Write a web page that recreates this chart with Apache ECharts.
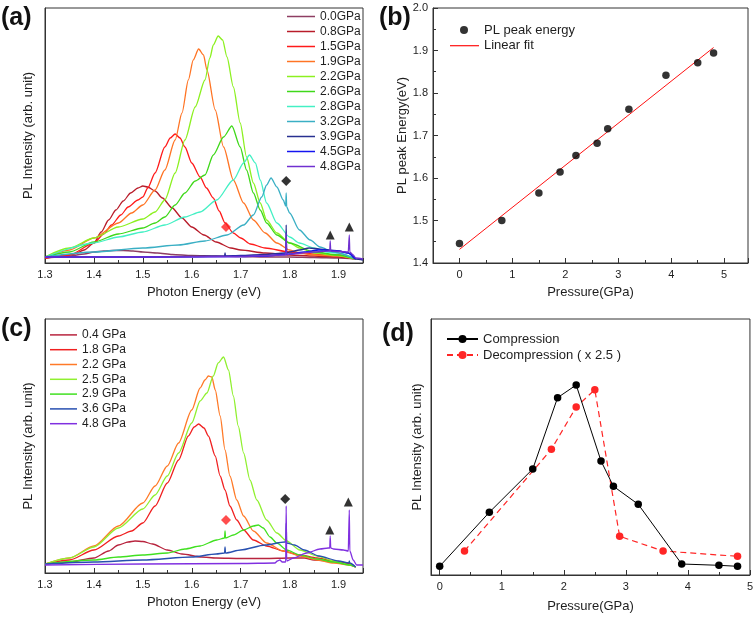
<!DOCTYPE html>
<html><head><meta charset="utf-8">
<script src="https://cdn.jsdelivr.net/npm/echarts@6/dist/echarts.min.js"></script>
<style>html,body{margin:0;padding:0;background:#fff}#c{width:756px;height:619px}</style>
</head><body><div id="c"></div>
<script>
// ---------- Panel (a): PL spectra under compression ----------
const aNames = ['0.0GPa','0.8GPa','1.5GPa','1.9GPa','2.2GPa','2.6GPa','2.8GPa','3.2GPa','3.9GPa','4.5GPa','4.8GPa'];
const aE00 = [1.30,1.35,1.38,1.40,1.42,1.44,1.46,1.48,1.50,1.53,1.56,1.60,1.65,1.70,1.75,1.80,1.85,1.90,1.935];
const aI00 = [5,7,9,11,12,12.5,12.5,12,11,10,8.5,7.5,7,6.5,6,6,5.5,5,4];
const aE08 = [1.30,1.33,1.36,1.38,1.40,1.415,1.43,1.445,1.46,1.475,1.49,1.50,1.51,1.525,1.54,1.56,1.58,1.60,1.625,1.65,1.68,1.70,1.75,1.80,1.85,1.90,1.935];
const aI08 = [5,6,9,13,20,31,43,53,62,70,75,77,76,72,65,55,45,36,28,21,15,13,10,8,7,6,4];
const aE15 = [1.30,1.35,1.40,1.42,1.436,1.455,1.47,1.49,1.50,1.51,1.525,1.545,1.556,1.566,1.576,1.586,1.60,1.617,1.63,1.644,1.656,1.668,1.685,1.70,1.72,1.75,1.80,1.85,1.90,1.935];
const aI15 = [5,8,20,29,38,48,56,63,66,75,90,116,125,129,125,116,100,86,75,65,52,40,30,25,19,15,11,9,8,4];
const aE19 = [1.30,1.35,1.40,1.45,1.477,1.50,1.525,1.545,1.566,1.58,1.593,1.603,1.614,1.624,1.631,1.648,1.665,1.685,1.706,1.726,1.75,1.774,1.80,1.82,1.85,1.90,1.935];
const aI19 = [6,13,25,40,50,58,73,93,123,150,183,203,214,208,193,153,116,83,60,43,30,20,13,10,8,7,4];
const aE22 = [1.30,1.35,1.40,1.45,1.50,1.525,1.545,1.566,1.586,1.607,1.627,1.637,1.644,1.654,1.663,1.672,1.685,1.699,1.712,1.726,1.74,1.753,1.774,1.80,1.82,1.85,1.89,1.935];
const aI22 = [6,15,25,36,44,51,63,90,123,156,183,205,218,227,223,206,176,140,106,80,60,43,30,20,15,10,8,4];
const aE26 = [1.30,1.35,1.40,1.45,1.50,1.525,1.545,1.566,1.586,1.607,1.627,1.644,1.665,1.682,1.699,1.712,1.726,1.74,1.753,1.774,1.80,1.85,1.90,1.935];
const aI26 = [6,11,21,29,35,40,46,58,70,82,88,108,126,137,116,93,70,53,40,28,20,11,8,4];
const aE28 = [1.30,1.40,1.45,1.50,1.545,1.586,1.617,1.651,1.685,1.706,1.718,1.73,1.74,1.753,1.774,1.80,1.82,1.85,1.876,1.90,1.935];
const aI28 = [6,20,26,31,38,46,51,63,83,100,108,100,83,60,40,26,20,15,11,10,4];
const aE32 = [1.30,1.40,1.50,1.573,1.627,1.672,1.706,1.726,1.743,1.753,1.762,1.774,1.787,1.792,1.793,1.794,1.80,1.82,1.842,1.862,1.89,1.935];
const aI32 = [6,11,15,18,22,28,38,48,66,78,85,76,63,57,70,56,50,33,23,16,11,4];
const aE39 = [1.30,1.50,1.60,1.667,1.668,1.669,1.70,1.75,1.79,1.792,1.793,1.794,1.80,1.82,1.84,1.86,1.88,1.90,1.92,1.935,1.95];
const aI39 = [6,6,6.5,7,10,7,7.5,8.5,10,10,38,10,11,13,15,14,13,12,10,4,3];
const aE45 = [1.30,1.50,1.70,1.75,1.80,1.83,1.86,1.87,1.88,1.90,1.92,1.935];
const aI45 = [6,6,6.5,7,9,11,13,13,12.5,12,10,4];
const aE48 = [1.30,1.50,1.70,1.79,1.792,1.793,1.794,1.80,1.85,1.88,1.882,1.883,1.884,1.90,1.92,1.921,1.922,1.923,1.93,1.935,1.95];
const aI48 = [6,6,6.5,8,8,30,8,9,11,12,12,22,12,11.5,11,11,28,11,8,5,4];
const aDiamondBlackE = [1.793], aDiamondBlackI = [82];
const aDiamondRedE = [1.67], aDiamondRedI = [36];
const aTriangleE = [1.883, 1.922], aTriangleI = [28, 36];

// ---------- Panel (b): PL peak energy vs pressure ----------
const bPressure = [0,0.8,1.5,1.9,2.2,2.6,2.8,3.2,3.9,4.5,4.8];
const bPeak = [1.446,1.500,1.565,1.614,1.653,1.682,1.716,1.762,1.842,1.871,1.894];
const bFitP = [0, 4.8];
const bFitE = [1.432, 1.907];

// ---------- Panel (c): PL spectra under decompression ----------
const cNames = ['0.4 GPa','1.8 GPa','2.2 GPa','2.5 GPa','2.9 GPa','3.6 GPa','4.8 GPa'];
const cE04 = [1.30,1.35,1.40,1.43,1.45,1.47,1.484,1.50,1.52,1.55,1.58,1.62,1.65,1.70,1.75,1.80,1.83,1.85,1.90,1.935];
const cI04 = [9,11,15,22,28,31,32,31.5,29,23,19,16,15,14.5,14.5,15,15,13,11,6];
const cE18 = [1.30,1.35,1.40,1.45,1.477,1.50,1.525,1.55,1.573,1.593,1.605,1.614,1.625,1.634,1.648,1.658,1.668,1.678,1.692,1.706,1.726,1.753,1.787,1.821,1.856,1.89,1.917,1.935];
const cI18 = [9,13,23,37,42,50,67,90,113,137,146,149,145,137,117,97,83,67,53,43,33,27,22,18,15,12,10,6];
const cE22 = [1.30,1.35,1.40,1.45,1.50,1.525,1.55,1.573,1.60,1.617,1.627,1.634,1.641,1.648,1.658,1.668,1.678,1.692,1.706,1.726,1.753,1.787,1.821,1.856,1.89,1.924,1.935];
const cI22 = [9,15,27,47,70,87,107,130,163,185,193,197,196,183,157,123,97,73,57,42,30,22,17,13,10,8,6];
const cE25 = [1.30,1.35,1.40,1.45,1.50,1.525,1.55,1.573,1.60,1.617,1.631,1.644,1.654,1.665,1.675,1.685,1.695,1.706,1.719,1.733,1.753,1.774,1.794,1.821,1.856,1.89,1.924,1.935];
const cI25 = [9,15,26,45,64,78,97,120,150,172,180,197,210,216,203,177,147,120,93,73,53,40,32,23,17,12,8,6];
const cE29 = [1.30,1.40,1.45,1.50,1.55,1.586,1.617,1.651,1.667,1.668,1.669,1.685,1.706,1.726,1.736,1.746,1.76,1.774,1.794,1.821,1.856,1.89,1.924,1.935];
const cI29 = [9,13,16,18,20,24,27,33,35,42,35,38,43,47,48,45,36,30,23,18,14,11,8,6];
const cE36 = [1.30,1.40,1.50,1.60,1.65,1.667,1.668,1.669,1.70,1.75,1.79,1.792,1.793,1.794,1.81,1.83,1.86,1.90,1.921,1.922,1.923,1.935];
const cI36 = [9,11,13,16,19,20,26,20,23,28,31,31,50,30,28,23,17,12,10,12,10,6];
const cE48 = [1.30,1.50,1.70,1.77,1.775,1.78,1.785,1.792,1.793,1.794,1.808,1.835,1.862,1.879,1.882,1.883,1.884,1.89,1.91,1.920,1.921,1.922,1.923,1.93,1.937,1.95];
const cI48 = [8,9,9.5,10,12,13,11,11,67,12,15,20,24,25,25,37,25,24,23,22,22,63,22,13,8,8];
const cDiamondBlackE = [1.791], cDiamondBlackI = [74];
const cDiamondRedE = [1.67], cDiamondRedI = [53];
const cTriangleE = [1.882, 1.92], cTriangleI = [43, 71];

// ---------- Panel (d): integrated intensity vs pressure ----------
const dCompP = [0,0.8,1.5,1.9,2.2,2.6,2.8,3.2,3.9,4.5,4.8];
const dCompI = [8.7,62.7,106,177.3,190,114,88.7,70.7,11,9.7,8.7];
const dDecP = [0.4,1.8,2.2,2.5,2.9,3.6,4.8];
const dDecI = [24,125.7,168,185.3,38.7,24,18.7];

// ---------- styles ----------
const aColors = ['#8E3E63','#B81C2A','#FF1A1A','#FF7424','#8CF020','#3FD81A','#44F0C4','#3AAFC4','#283090','#1414F0','#7030D0'];
const cColors = ['#B8243E','#F02020','#FF7A28','#90F030','#40E020','#2850B0','#8030E0'];
const FONT = 'Arial, "Liberation Sans", Helvetica, sans-serif';
const TXT = '#1e1e1e';

const aSets = [[aE00,aI00],[aE08,aI08],[aE15,aI15],[aE19,aI19],[aE22,aI22],[aE26,aI26],[aE28,aI28],[aE32,aI32],[aE39,aI39],[aE45,aI45],[aE48,aI48]];
const cSets = [[cE04,cI04],[cE18,cI18],[cE22,cI22],[cE25,cI25],[cE29,cI29],[cE36,cI36],[cE48,cI48]];

const zip = (xs, ys) => xs.map((x, i) => [x, ys[i]]);
function curve(name, xs, ys, color, idx) {
  return { name, type: 'line', xAxisIndex: idx, yAxisIndex: idx, data: zip(xs, ys),
    symbol: 'none', smooth: 0.25, smoothMonotone: 'x', color,
    lineStyle: { color, width: 1.3 }, silent: true };
}
function marks(xs, ys, symbol, color, size, idx) {
  return { type: 'scatter', xAxisIndex: idx, yAxisIndex: idx, data: zip(xs, ys), symbol,
    symbolSize: size, itemStyle: { color }, silent: true, z: 5 };
}
const AXL = { onZero: false, lineStyle: { color: '#333', width: 1 } };
function specX(idx) {
  return { gridIndex: idx, type: 'value', min: 1.3, max: 1.95, interval: 0.1,
    name: 'Photon Energy (eV)', nameLocation: 'middle', nameGap: 23,
    nameTextStyle: { fontSize: 13, color: TXT, fontFamily: FONT },
    axisLine: AXL,
    axisTick: { inside: true, length: 5, lineStyle: { color: '#333' } },
    minorTick: { show: true, splitNumber: 2, length: 3, lineStyle: { color: '#333' } },
    axisLabel: { fontSize: 11, color: TXT, margin: 6, fontFamily: FONT, showMaxLabel: false,
      formatter: v => v.toFixed(1) },
    splitLine: { show: false } };
}
function plainY(idx, max, gap) {
  return { gridIndex: idx, type: 'value', min: 0, max,
    name: 'PL Intensity (arb. unit)', nameLocation: 'middle', nameGap: gap,
    nameTextStyle: { fontSize: 13, color: TXT, fontFamily: FONT },
    axisLine: { show: true, onZero: false, lineStyle: { color: '#333' } }, axisTick: { show: false },
    axisLabel: { show: false }, splitLine: { show: false } };
}
const gridBase = { show: true, borderColor: '#333', borderWidth: 1, containLabel: false };

const series = [];
aSets.forEach((s, i) => series.push(curve(aNames[i], s[0], s[1], aColors[i], 0)));
series.push(marks(aDiamondBlackE, aDiamondBlackI, 'diamond', '#000', 10, 0));
series.push(marks(aDiamondRedE, aDiamondRedI, 'diamond', '#FF2020', 10, 0));
series.push(marks(aTriangleE, aTriangleI, 'triangle', '#000', 9, 0));
cSets.forEach((s, i) => series.push(curve(cNames[i], s[0], s[1], cColors[i], 2)));
series.push(marks(cDiamondBlackE, cDiamondBlackI, 'diamond', '#000', 10, 2));
series.push(marks(cDiamondRedE, cDiamondRedI, 'diamond', '#FF2020', 10, 2));
series.push(marks(cTriangleE, cTriangleI, 'triangle', '#000', 9, 2));
series.push({ name: 'PL peak energy', type: 'scatter', xAxisIndex: 1, yAxisIndex: 1,
  data: zip(bPressure, bPeak), symbol: 'circle', symbolSize: 7.5, itemStyle: { color: '#000' }, z: 5 });
series.push({ name: 'Linear fit', type: 'line', xAxisIndex: 1, yAxisIndex: 1,
  data: zip(bFitP, bFitE), symbol: 'none', color: '#FF1010', lineStyle: { color: '#FF1010', width: 1 } });
series.push({ name: 'Compression', type: 'line', xAxisIndex: 3, yAxisIndex: 3,
  data: zip(dCompP, dCompI), symbol: 'circle', symbolSize: 7.5, color: '#000',
  itemStyle: { color: '#000' }, lineStyle: { color: '#000', width: 1 }, z: 4 });
series.push({ name: 'Decompression ( x 2.5 )', type: 'line', xAxisIndex: 3, yAxisIndex: 3,
  data: zip(dDecP, dDecI), symbol: 'circle', symbolSize: 7.5, color: '#FF2626',
  itemStyle: { color: '#FF2626' }, lineStyle: { color: '#FF2626', width: 1.2, type: [6, 4] }, z: 3 });

const titleStyle = { fontSize: 25, fontWeight: 'bold', color: '#111', fontFamily: FONT };
const option = {
  animation: false,
  textStyle: { fontFamily: FONT },
  title: [
    { text: '(a)', left: 1, top: 6, padding: 0, textStyle: titleStyle },
    { text: '(b)', left: 379, top: 6, padding: 0, textStyle: titleStyle },
    { text: '(c)', left: 1, top: 317, padding: 0, textStyle: titleStyle },
    { text: '(d)', left: 382, top: 322, padding: 0, textStyle: titleStyle }
  ],
  grid: [
    Object.assign({ left: 45, top: 8, width: 318, height: 255 }, gridBase),
    Object.assign({ left: 433, top: 8, width: 315, height: 255 }, gridBase),
    Object.assign({ left: 45, top: 319, width: 318, height: 254 }, gridBase),
    Object.assign({ left: 431, top: 319, width: 320, height: 256 }, gridBase)
  ],
  xAxis: [
    specX(0),
    { gridIndex: 1, type: 'value', min: -0.5, max: 5.45,
      name: 'Pressure(GPa)', nameLocation: 'middle', nameGap: 23,
      nameTextStyle: { fontSize: 13, color: TXT, fontFamily: FONT },
      axisLine: AXL,
      axisTick: { inside: true, length: 5, lineStyle: { color: '#333' } },
      minorTick: { show: true, splitNumber: 2, length: 3, lineStyle: { color: '#333' } },
      axisLabel: { fontSize: 11, color: TXT, margin: 6, showMinLabel: false, showMaxLabel: false },
      splitLine: { show: false } },
    specX(2),
    { gridIndex: 3, type: 'value', min: -0.14, max: 5,
      name: 'Pressure(GPa)', nameLocation: 'middle', nameGap: 25,
      nameTextStyle: { fontSize: 13, color: TXT, fontFamily: FONT },
      axisLine: AXL,
      axisTick: { inside: true, length: 5, lineStyle: { color: '#333' } },
      minorTick: { show: true, splitNumber: 2, length: 3, lineStyle: { color: '#333' } },
      axisLabel: { fontSize: 11, color: TXT, margin: 6, showMinLabel: false, showMaxLabel: true },
      splitLine: { show: false } }
  ],
  yAxis: [
    plainY(0, 255, 10),
    { gridIndex: 1, type: 'value', min: 1.4, max: 2.0, interval: 0.1,
      name: 'PL peak Energy(eV)', nameLocation: 'middle', nameGap: 24,
      nameTextStyle: { fontSize: 13, color: TXT, fontFamily: FONT },
      axisLine: AXL,
      axisTick: { inside: true, length: 5, lineStyle: { color: '#333' } },
      minorTick: { show: true, splitNumber: 2, length: 3, lineStyle: { color: '#333' } },
      axisLabel: { fontSize: 11, color: TXT, margin: 5, formatter: v => v.toFixed(1) },
      splitLine: { show: false } },
    plainY(2, 254, 10),
    plainY(3, 256, 7)
  ],
  legend: [
    { data: aNames, left: 287, top: 9, orient: 'vertical', padding: 0, itemGap: 0,
      itemWidth: 28, itemHeight: 1.5, icon: 'rect', selectedMode: false,
      itemStyle: { borderWidth: 0 },
      textStyle: { fontSize: 12, lineHeight: 15, color: TXT, fontFamily: FONT } },
    { data: cNames, left: 50, top: 327.5, orient: 'vertical', padding: 0, itemGap: 0,
      itemWidth: 27, itemHeight: 1.5, icon: 'rect', selectedMode: false,
      itemStyle: { borderWidth: 0 },
      textStyle: { fontSize: 12, lineHeight: 14.8, color: TXT, fontFamily: FONT } },
    { data: ['PL peak energy'], left: 460, top: 22, orient: 'vertical', padding: 0,
      itemWidth: 30, itemHeight: 8, icon: 'circle', selectedMode: false,
      textStyle: { fontSize: 13, lineHeight: 16, color: TXT, fontFamily: FONT } },
    { data: ['Linear fit'], left: 450, top: 37.7, orient: 'vertical', padding: 0,
      itemWidth: 29, itemHeight: 1.2, icon: 'rect', selectedMode: false,
      itemStyle: { borderWidth: 0 },
      textStyle: { fontSize: 13, lineHeight: 16, color: TXT, fontFamily: FONT } },
    { data: ['Compression', 'Decompression ( x 2.5 )'], left: 446, top: 331, orient: 'vertical',
      padding: 0, itemGap: 0, itemWidth: 31, itemHeight: 10, selectedMode: false,
      textStyle: { fontSize: 13, lineHeight: 16, color: TXT, fontFamily: FONT } }
  ],
  series
};
const chart = echarts.init(document.getElementById('c'), null, { renderer: 'canvas' });
chart.setOption(option);
</script></body></html>
